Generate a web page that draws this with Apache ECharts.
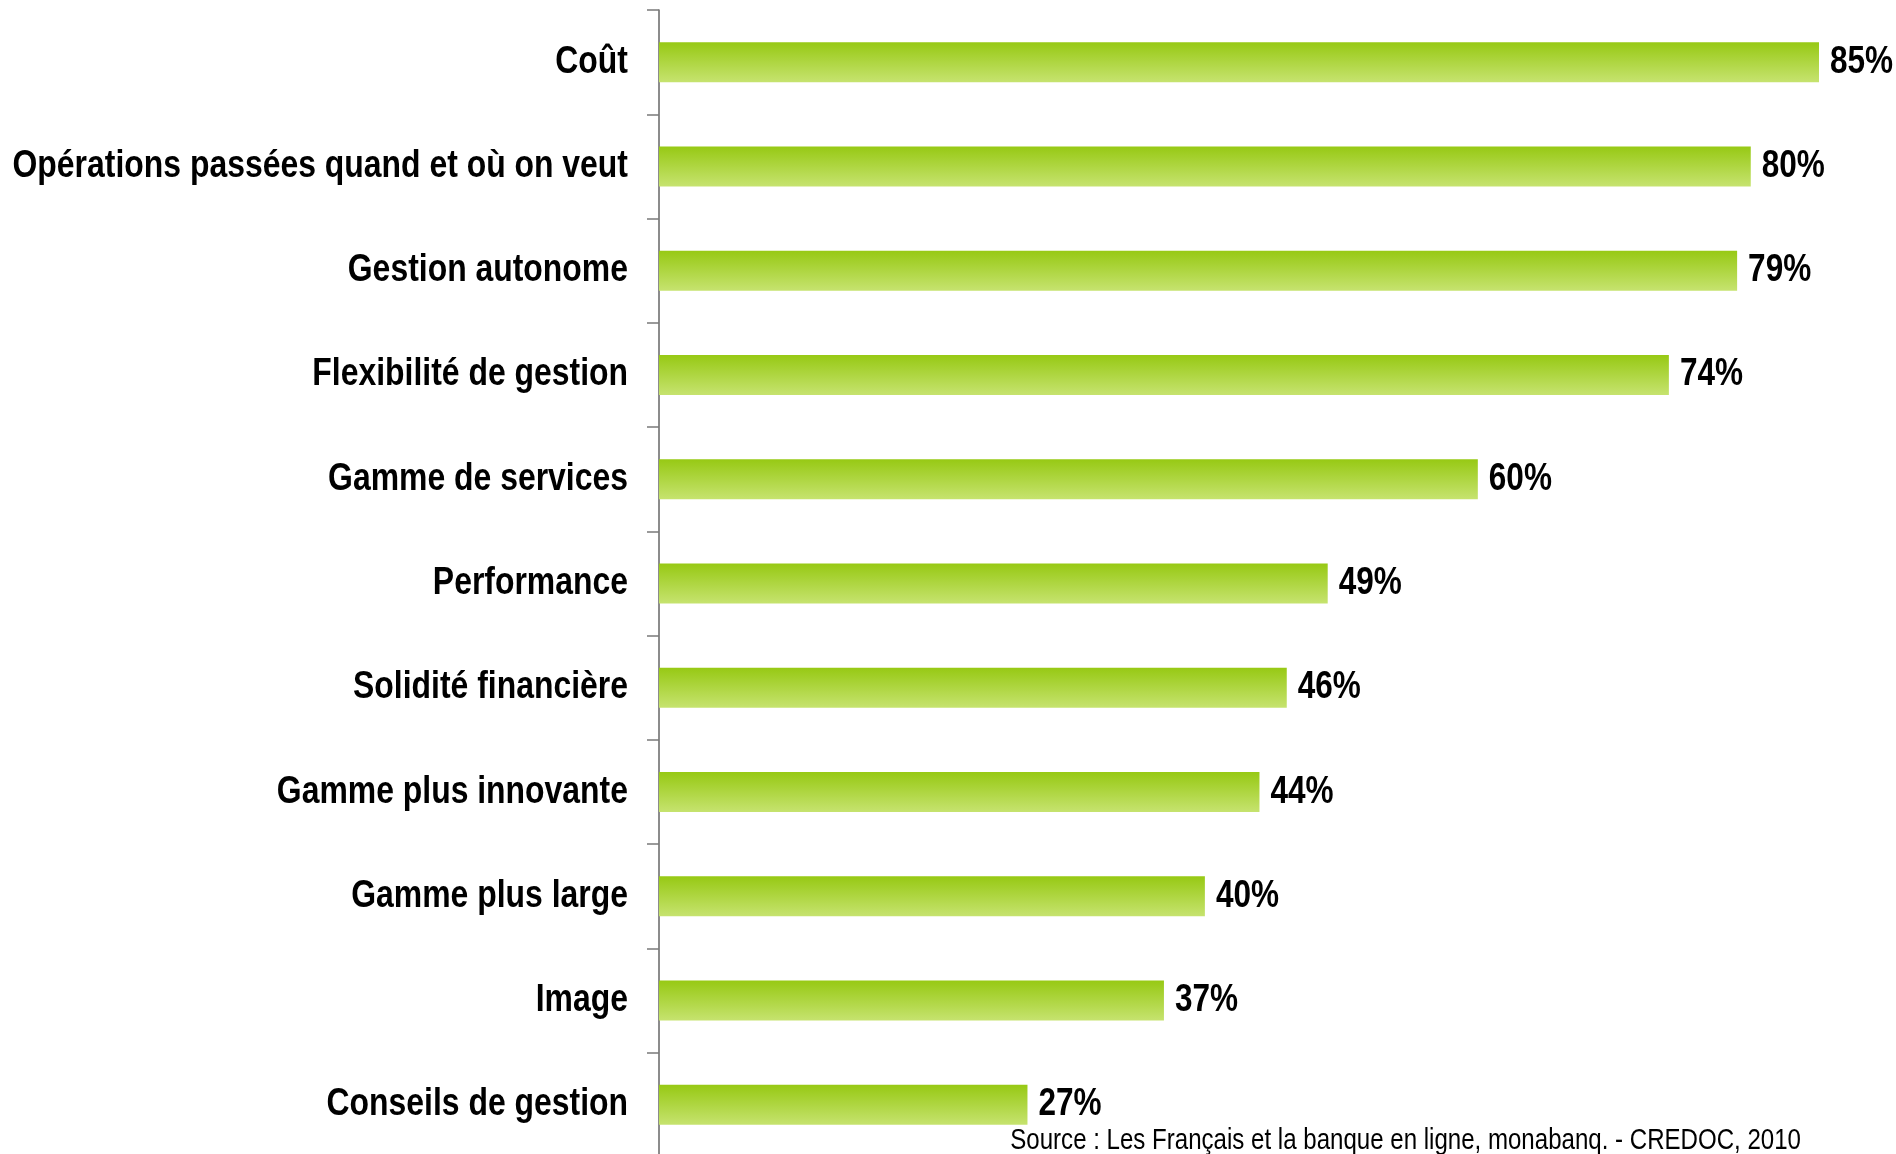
<!DOCTYPE html>
<html>
<head>
<meta charset="utf-8">
<script src="https://cdn.jsdelivr.net/npm/echarts@6/dist/echarts.min.js"></script>
<style>
  html, body { margin: 0; padding: 0; background: #fff; overflow: hidden; }
  #chart { width: 1896px; height: 1154px; }
</style>
</head>
<body>
<div id="chart"></div>
<script>
// Reasons for choosing an online bank (share of respondents, %)
const categories = [
  'Coût',
  'Opérations passées quand et où on veut',
  'Gestion autonome',
  'Flexibilité de gestion',
  'Gamme de services',
  'Performance',
  'Solidité financière',
  'Gamme plus innovante',
  'Gamme plus large',
  'Image',
  'Conseils de gestion'
];
const shares = [85, 80, 79, 74, 60, 49, 46, 44, 40, 37, 27];
const sourceNote = 'Source : Les Français et la banque en ligne, monabanq. - CREDOC, 2010';

const FONT = '"Liberation Sans", Arial, sans-serif';
// horizontal squeeze giving the narrow lettering
const NARROW_CAT = 0.84;
const NARROW_VAL = 0.83;

const chart = echarts.init(document.getElementById('chart'));

// category names and value labels, drawn condensed next to the axis and bar ends
function renderLabels(params, api) {
  const value = api.value(0);
  const idx = api.value(1);
  const base = api.coord([0, idx]);
  const end = api.coord([value, idx]);
  return {
    type: 'group',
    children: [{
      type: 'text',
      x: base[0] - 31,
      y: base[1],
      scaleX: NARROW_CAT,
      silent: true,
      style: {
        text: categories[idx],
        x: 0, y: 0,
        align: 'right',
        verticalAlign: 'middle',
        fill: '#000',
        font: 'bold 38px ' + FONT
      }
    }, {
      type: 'text',
      x: end[0] + 11,
      y: end[1],
      scaleX: NARROW_VAL,
      silent: true,
      style: {
        text: value + '%',
        x: 0, y: 0,
        align: 'left',
        verticalAlign: 'middle',
        fill: '#000',
        font: 'bold 38px ' + FONT
      }
    }]
  };
}

chart.setOption({
  animation: false,
  backgroundColor: '#ffffff',
  grid: { left: 659, top: 10, width: 1160, height: 1147, outerBoundsMode: 'none', containLabel: false },
  xAxis: {
    type: 'value',
    min: 0,
    max: 85,
    show: false
  },
  yAxis: {
    type: 'category',
    inverse: true,
    data: categories,
    axisLine: { show: true, lineStyle: { color: '#666666', width: 1.5 } },
    axisTick: { show: true, length: 12, lineStyle: { color: '#7a7a7a', width: 1.5 } },
    axisLabel: { show: false },
    splitLine: { show: false }
  },
  series: [{
    type: 'bar',
    data: shares,
    barWidth: 40,
    itemStyle: {
      color: new echarts.graphic.LinearGradient(0, 0, 0, 1, [
        { offset: 0, color: '#97c914' },
        { offset: 1, color: '#c6e36f' }
      ])
    }
  }, {
    type: 'custom',
    clip: false,
    silent: true,
    data: shares.map((v, i) => [v, i]),
    encode: { x: 0, y: 1 },
    renderItem: renderLabels,
    z: 5
  }],
  graphic: [{
    type: 'text',
    x: 1801,
    y: 1126,
    scaleX: 0.83,
    silent: true,
    style: {
      text: sourceNote,
      x: 0, y: 0,
      align: 'right',
      verticalAlign: 'top',
      fill: '#000',
      font: '29px ' + FONT
    }
  }]
});
</script>
</body>
</html>
